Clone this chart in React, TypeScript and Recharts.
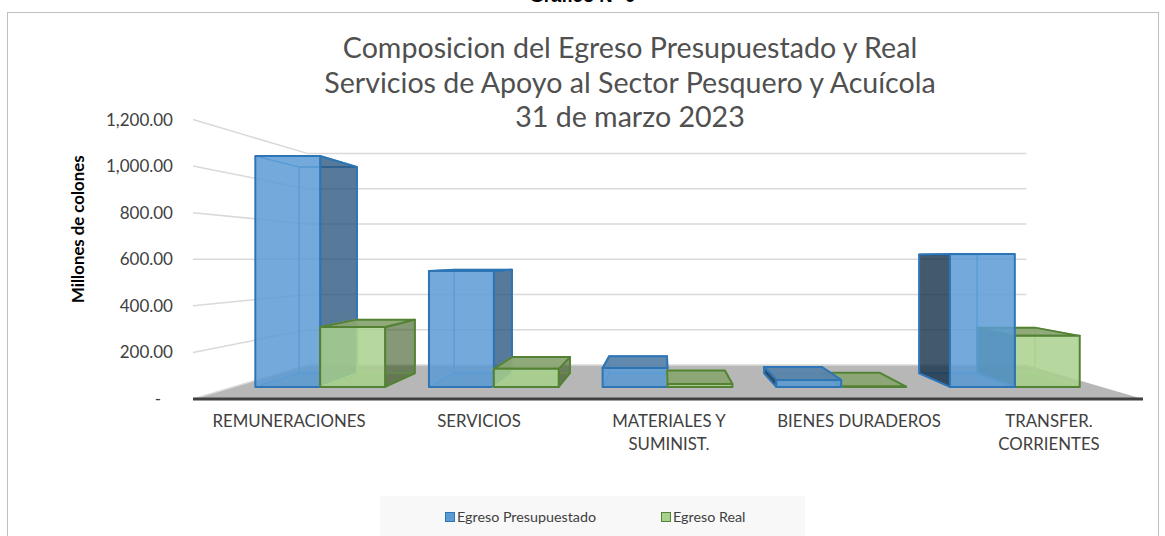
import { BarChart, Bar, XAxis, YAxis, CartesianGrid, Legend } from "recharts"

const categories = ["REMUNERACIONES", "SERVICIOS", "MATERIALES Y\nSUMINIST.", "BIENES DURADEROS", "TRANSFER.\nCORRIENTES"]
const budget = [1085, 545, 89, 33, 625]
const real = [282, 85, 14, 2, 240]
const yTicks = [0, 200, 400, 600, 800, 1000, 1200]
const titleLines = ["Composicion del Egreso Presupuestado y Real", "Servicios de Apoyo al Sector Pesquero y Acuícola", "31 de marzo 2023"]

const data = categories.map((name, i) => ({ name, budget: budget[i], real: real[i] }))

const FONT = "Lato, 'Open Sans', sans-serif"
const BLUE = { fill: "#5B9BD5", line: "#2E75B6", dark: "#1F4E79", darker: "#14304A", top: "#5A84AB", shade: 0.75 }
const GREEN = { fill: "#A9D18E", line: "#548235", dark: "#3B5A22", darker: "#3B5A22", top: "#8AA573", shade: 0.62 }

// perspective of the 3d chart: everything shrinks towards this point
const VP = { x: 663, y: 259 }
const FRONT = 0.914 // bar front faces, relative to the axis plane
const BACK = 0.816 // bar back faces
const WALL = 0.757 // back wall of the plot
const project = (x: number, y: number, k: number): [number, number] => [VP.x + (x - VP.x) * k, VP.y + (y - VP.y) * k]
const pts = (list: [number, number][]) => list.map((p) => p.join(",")).join(" ")

function Box(props: any) {
  const { x, y, width, height, colors } = props
  const [fl, ft] = project(x, y, FRONT)
  const [fr, fb] = project(x + width, y + height, FRONT)
  const [bl, bt] = project(x, y, BACK)
  const [br, bb] = project(x + width, y + height, BACK)
  const edge = { stroke: colors.line, strokeWidth: 2, strokeLinejoin: "round" as const }
  const thin = { stroke: colors.fill, strokeWidth: 1.5, fill: "none" }
  const side = { fill: colors.dark, fillOpacity: colors.shade, ...edge }
  return (
    <g>
      <rect x={bl} y={bt} width={br - bl} height={bb - bt} {...thin} />
      <polygon points={pts([[fl, fb], [fr, fb], [br, bb], [bl, bb]])} {...thin} fill={colors.dark} fillOpacity={0.12} />
      <polygon points={pts([[fl, ft], [fr, ft], [br, bt], [bl, bt]])} {...thin} />
      {br > fr + 1 && <polygon points={pts([[fr, ft], [br, bt], [br, bb], [fr, fb]])} {...side} />}
      {bl < fl - 1 && <polygon points={pts([[fl, ft], [bl, bt], [bl, bb], [fl, fb]])} {...side} fill={colors.darker} fillOpacity={0.8} />}
      {bt < ft && <polygon points={pts([[fl, ft], [fr, ft], [br, bt], [bl, bt]])} {...edge} fill={colors.top} fillOpacity={0.95} />}
      <rect x={fl} y={ft} width={fr - fl} height={fb - ft} fill={colors.fill} fillOpacity={0.85} {...edge} />
    </g>
  )
}

function wallLine(props: any) {
  const { x1, x2, y1 } = props
  const [wl, wy] = project(x1, y1, WALL)
  const [wr] = project(x2, y1, WALL)
  const isFloor = y1 > 390
  return (
    <g key={y1}>
      {isFloor && <polygon points={pts([[x1, y1], [x2, y1], [wr, wy], [wl, wy]])} fill="#b7b7b7" />}
      <line x1={x1} y1={y1} x2={wl} y2={wy} stroke="#d9d9d9" strokeWidth={1.5} />
      <line x1={wl} y1={wy} x2={wr} y2={wy} stroke="#d9d9d9" strokeWidth={1.5} />
    </g>
  )
}

function YTick({ x, y, payload }: any) {
  const zero = payload.value === 0
  return (
    <text x={zero ? x - 12 : x} y={y} dy={6} textAnchor="end" fontFamily={FONT} fontSize={17} fill="#404040">
      {zero ? "-" : payload.value.toLocaleString("en-US", { minimumFractionDigits: 2 })}
    </text>
  )
}

function XTick({ x, y, payload }: any) {
  return (
    <text x={x + 1} y={y} textAnchor="middle" fontFamily={FONT} fontSize={16.8} fill="#404040">
      {String(payload.value).split("\n").map((line: string, i: number) => (
        <tspan key={i} x={x + 1} dy={i === 0 ? 0 : 23}>{line}</tspan>
      ))}
    </text>
  )
}

function LegendBox() {
  const swatch = (c: any) => (
    <span style={{ display: "inline-block", width: 8, height: 8, background: c.fill, border: `1.5px solid ${c.line}`, marginRight: 2 }} />
  )
  return (
    <div style={{ background: "#f8f8f8", height: 40, display: "flex", alignItems: "center", fontFamily: FONT, fontSize: 14.3, color: "#404040" }}>
      <span style={{ marginLeft: 65 }}>{swatch(BLUE)}Egreso Presupuestado</span>
      <span style={{ marginLeft: 65 }}>{swatch(GREEN)}Egreso Real</span>
    </div>
  )
}

const layer = { position: "absolute", left: 0, top: 0 } as const
const barLayout = { width: 1165, height: 536, data, barCategoryGap: "12.6%", barGap: 0 }

export default function App() {
  return (
    <div style={{ position: "absolute", left: 0, top: 0, width: 1165, height: 536, overflow: "hidden", background: "#fff" }}>
      <div style={{ position: "absolute", left: 0, width: 1165, top: -15, textAlign: "center", fontFamily: "'Liberation Sans', sans-serif", fontWeight: 700, fontSize: 18.5, color: "#000" }}>
        Gráfico N° 9
      </div>
      <div style={{ position: "absolute", left: 7, top: 12, width: 1150, height: 530, border: "1px solid #bfbfbf" }} />
      <div style={{ position: "absolute", left: 230, width: 800, top: 30, textAlign: "center", fontFamily: FONT, fontSize: 28.6, lineHeight: "34.5px", color: "#505050" }}>
        {titleLines.map((t) => <div key={t}>{t}</div>)}
      </div>
      {/* back layer: walls, floor and the green boxes that sit behind the blue ones on the right */}
      <div style={layer}>
        <BarChart {...barLayout} margin={{ left: 60, right: 22, top: 119.5, bottom: 40 }}>
          <CartesianGrid vertical={false} horizontal={wallLine as any} />
          <XAxis dataKey="name" interval={0} height={97} tick={() => <g />} tickLine={false} axisLine={false} />
          <YAxis domain={[0, 1200]} ticks={yTicks} interval={0} width={133} tick={() => <g />} tickLine={false} axisLine={false} />
          <Bar dataKey="budget" isAnimationActive={false} shape={() => <g />} />
          <Bar dataKey="real" isAnimationActive={false} shape={(p: any) => (p.index >= 3 ? <Box {...p} colors={GREEN} /> : <g />)} />
        </BarChart>
      </div>
      <div style={layer}>
        <BarChart {...barLayout} margin={{ left: 60, right: 22, top: 119.5, bottom: 0 }}>
          <XAxis
            dataKey="name"
            interval={0}
            height={97}
            tick={<XTick />}
            tickLine={false}
            tickMargin={22}
            axisLine={{ stroke: "#404040", strokeWidth: 3 }}
          />
          <YAxis
            domain={[0, 1200]}
            ticks={yTicks}
            interval={0}
            width={133}
            tick={<YTick />}
            tickLine={false}
            tickMargin={14}
            axisLine={false}
            label={{ value: "Millones de colones", angle: -90, position: "insideLeft", offset: 18, dy: -30, style: { fontFamily: FONT, fontSize: 16.8, fontWeight: 700, fill: "#000", textAnchor: "middle" } }}
          />
          <Bar dataKey="budget" isAnimationActive={false} shape={(p: any) => <Box {...p} colors={BLUE} />} />
          <Bar dataKey="real" isAnimationActive={false} shape={(p: any) => (p.index < 3 ? <Box {...p} colors={GREEN} /> : <g />)} />
          <Legend content={<LegendBox />} wrapperStyle={{ left: 380, top: 496, width: 425, height: 40 }} />
        </BarChart>
      </div>
    </div>
  )
}
